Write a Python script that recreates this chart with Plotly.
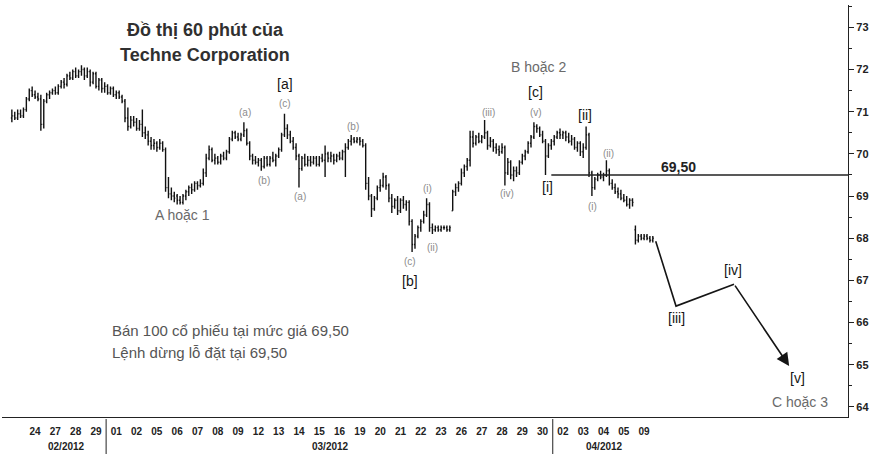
# Biểu đồ 60 phút của Techne Corporation với đếm sóng Elliott
import numpy as np
import plotly.graph_objects as go

# nhãn ngày trên trục x (23/02 chỉ có một phần phiên, không ghi nhãn)
ngay = ['24', '27', '28', '29', '01', '02', '05', '06', '07', '08', '09', '12', '13', '14',
        '15', '16', '19', '20', '21', '22', '23', '26', '27', '28', '29', '30',
        '02', '03', '04', '05', '09']
thang = ['02/2012', '03/2012', '04/2012']
so_ngay_moi_thang = [4, 22, 5]
nen_phien_dau = 5      # số nến còn lại của phiên 23/02
nen_moi_ngay = 7       # 7 nến 60 phút mỗi phiên

gia_mo = [70.85, 70.90, 70.85, 70.95, 70.90,
          71.05, 71.30, 71.50, 71.40, 71.35, 71.30, 70.70,
          71.25, 71.40, 71.45, 71.50, 71.45, 71.60, 71.70,
          71.65, 71.85, 71.80, 71.95, 71.85, 71.95, 72.00,
          71.85, 71.95, 71.70, 71.90, 71.60, 71.75, 71.55,
          71.60, 71.45, 71.55, 71.40, 71.45, 71.35, 71.25,
          70.85, 70.65, 70.80, 70.75, 70.60, 70.70, 70.50,
          70.45, 70.30, 70.20, 70.25, 70.15, 70.25, 70.10,
          69.20, 69.05, 69.00, 69.00, 68.90, 68.85, 69.00,
          69.10, 69.20, 69.15, 69.30, 69.25, 69.30, 69.55,
          69.90, 70.10, 69.85, 69.90, 69.80, 69.95, 69.90,
          70.05, 70.35, 70.50, 70.40, 70.35, 70.45, 70.55,
          70.25, 69.95, 69.85, 69.80, 69.85, 69.70, 69.90,
          69.75, 69.90, 69.85, 69.95, 70.10, 70.45, 70.60,
          70.45, 70.30, 70.15, 69.95, 69.65, 69.90, 69.75,
          69.85, 69.80, 69.90, 69.75, 69.90, 69.85, 70.00,
          69.90, 69.95, 69.85, 69.95, 69.90, 70.05, 70.15,
          70.30, 70.35, 70.30, 70.35, 70.30, 70.20, 69.30,
          69.00, 68.70, 68.95, 69.20, 69.25, 69.45, 69.25,
          68.95, 68.75, 68.90, 68.65, 68.90, 68.80, 68.85,
          68.40, 67.85, 68.05, 68.25, 68.40, 68.55, 68.80,
          68.25, 68.20, 68.25, 68.20, 68.25, 68.25, 68.20,
          68.65, 69.10, 69.20, 69.30, 69.55, 69.70, 69.85,
          70.40, 70.25, 70.40, 70.30, 70.40, 70.50, 70.20,
          70.30, 70.15, 70.10, 70.05, 70.15, 69.55, 69.80,
          69.50, 69.60, 69.55, 69.80, 69.95, 70.05, 70.25,
          70.40, 70.65, 70.60, 70.45, 70.30, 69.95, 70.20,
          70.30, 70.40, 70.50, 70.45, 70.50, 70.40, 70.30,
          70.35, 70.15, 70.25, 70.05, 70.15, 70.45, 69.55,
          69.20, 69.40, 69.50, 69.45, 69.50, 69.60, 69.30,
          69.20, 69.10, 69.05, 68.95, 68.90, 68.80, 68.90,
          68.20, 67.95, 68.05, 68.00, 68.05, 68.00, 67.95]
gia_cao = [71.05, 71.00, 71.05, 71.05, 71.10,
           71.35, 71.55, 71.60, 71.50, 71.45, 71.40, 71.30,
           71.45, 71.50, 71.55, 71.60, 71.65, 71.75, 71.80,
           71.90, 71.95, 72.00, 72.05, 72.00, 72.10, 72.05,
           72.05, 72.00, 71.95, 71.95, 71.80, 71.80, 71.70,
           71.65, 71.60, 71.60, 71.50, 71.50, 71.40, 71.30,
           71.10, 70.90, 70.90, 70.85, 70.80, 71.05, 70.65,
           70.55, 70.40, 70.35, 70.30, 70.35, 70.30, 70.15,
           69.45, 69.20, 69.10, 69.05, 69.00, 69.05, 69.15,
           69.25, 69.30, 69.35, 69.35, 69.40, 69.65, 70.00,
           70.20, 70.15, 70.00, 69.95, 70.00, 70.05, 70.10,
           70.40, 70.55, 70.55, 70.50, 70.50, 70.75, 70.60,
           70.30, 70.00, 69.95, 69.90, 69.90, 69.95, 69.95,
           69.95, 70.05, 70.00, 70.15, 70.50, 70.95, 70.70,
           70.55, 70.40, 70.25, 70.00, 69.95, 70.00, 69.95,
           69.95, 69.95, 69.95, 69.95, 70.00, 70.20, 70.05,
           70.05, 70.00, 70.00, 70.05, 70.10, 70.25, 70.35,
           70.45, 70.40, 70.40, 70.40, 70.35, 70.25, 69.45,
           69.05, 69.00, 69.25, 69.40, 69.55, 69.50, 69.30,
           69.05, 68.95, 69.00, 68.95, 69.00, 68.90, 68.90,
           68.45, 68.10, 68.30, 68.45, 68.65, 68.95, 68.85,
           68.35, 68.30, 68.30, 68.30, 68.30, 68.30, 68.30,
           69.15, 69.30, 69.35, 69.65, 69.75, 69.90, 70.55,
           70.55, 70.45, 70.50, 70.45, 70.80, 70.55, 70.40,
           70.35, 70.25, 70.20, 70.25, 70.20, 69.90, 69.85,
           69.70, 69.70, 69.85, 70.00, 70.10, 70.30, 70.45,
           70.75, 70.70, 70.65, 70.55, 70.35, 70.25, 70.35,
           70.45, 70.55, 70.60, 70.55, 70.55, 70.50, 70.45,
           70.40, 70.30, 70.30, 70.25, 70.65, 70.50, 69.60,
           69.45, 69.55, 69.60, 69.55, 69.85, 69.65, 69.40,
           69.30, 69.20, 69.15, 69.05, 69.00, 68.95, 68.95,
           68.30, 68.10, 68.10, 68.10, 68.10, 68.05, 68.05]
gia_thap = [70.75, 70.80, 70.80, 70.85, 70.85,
            71.00, 71.25, 71.35, 71.30, 71.25, 70.55, 70.60,
            71.20, 71.30, 71.40, 71.40, 71.40, 71.55, 71.55,
            71.60, 71.75, 71.75, 71.80, 71.80, 71.85, 71.75,
            71.80, 71.60, 71.65, 71.55, 71.50, 71.45, 71.45,
            71.40, 71.40, 71.35, 71.30, 71.30, 71.20, 70.75,
            70.55, 70.60, 70.65, 70.55, 70.55, 70.40, 70.35,
            70.20, 70.10, 70.10, 70.05, 70.10, 70.05, 69.10,
            68.95, 68.90, 68.85, 68.80, 68.80, 68.80, 68.90,
            69.00, 69.05, 69.10, 69.15, 69.20, 69.25, 69.45,
            69.85, 69.80, 69.75, 69.75, 69.75, 69.85, 69.85,
            70.00, 70.30, 70.35, 70.30, 70.30, 70.40, 70.20,
            69.85, 69.75, 69.75, 69.70, 69.60, 69.65, 69.70,
            69.70, 69.80, 69.70, 69.90, 70.05, 70.40, 70.35,
            70.25, 70.10, 69.85, 69.20, 69.60, 69.70, 69.70,
            69.70, 69.75, 69.70, 69.70, 69.80, 69.45, 69.80,
            69.80, 69.75, 69.80, 69.85, 69.85, 69.45, 70.10,
            70.20, 70.25, 70.25, 70.20, 70.15, 69.15, 68.90,
            68.50, 68.65, 68.90, 69.10, 69.20, 69.15, 68.85,
            68.60, 68.70, 68.55, 68.60, 68.70, 68.65, 68.30,
            67.67, 67.75, 68.00, 68.15, 68.35, 68.50, 68.15,
            68.10, 68.15, 68.15, 68.15, 68.20, 68.15, 68.15,
            68.65, 69.00, 69.10, 69.25, 69.45, 69.60, 69.70,
            70.15, 70.20, 70.25, 70.25, 70.35, 70.10, 70.15,
            70.05, 70.00, 69.95, 70.00, 69.25, 69.50, 69.40,
            69.35, 69.45, 69.50, 69.75, 69.85, 70.00, 70.15,
            70.35, 70.50, 70.40, 70.25, 69.50, 69.90, 70.10,
            70.20, 70.35, 70.35, 70.35, 70.30, 70.25, 70.20,
            70.10, 70.05, 69.95, 69.90, 70.10, 69.45, 69.00,
            69.15, 69.35, 69.40, 69.35, 69.45, 69.25, 69.15,
            69.05, 68.95, 68.90, 68.85, 68.75, 68.70, 68.75,
            67.85, 67.90, 67.95, 67.95, 67.95, 67.90, 67.90]
gia_dong = [70.90, 70.85, 70.95, 70.90, 71.05,
            71.30, 71.50, 71.40, 71.35, 71.30, 70.70, 71.25,
            71.40, 71.45, 71.50, 71.45, 71.60, 71.70, 71.65,
            71.85, 71.80, 71.95, 71.85, 71.95, 72.00, 71.85,
            71.95, 71.70, 71.90, 71.60, 71.75, 71.55, 71.60,
            71.45, 71.55, 71.40, 71.45, 71.35, 71.25, 70.85,
            70.65, 70.80, 70.75, 70.60, 70.70, 70.50, 70.45,
            70.30, 70.20, 70.25, 70.15, 70.25, 70.10, 69.20,
            69.05, 69.00, 68.95, 68.90, 68.85, 69.00, 69.10,
            69.20, 69.15, 69.30, 69.25, 69.30, 69.55, 69.90,
            70.10, 69.85, 69.90, 69.80, 69.95, 69.90, 70.05,
            70.35, 70.50, 70.40, 70.35, 70.45, 70.55, 70.25,
            69.95, 69.85, 69.80, 69.85, 69.70, 69.90, 69.75,
            69.90, 69.85, 69.95, 70.10, 70.45, 70.60, 70.45,
            70.30, 70.15, 69.95, 69.65, 69.90, 69.75, 69.85,
            69.80, 69.90, 69.75, 69.90, 69.85, 70.00, 69.90,
            69.95, 69.85, 69.95, 69.90, 70.05, 70.15, 70.30,
            70.35, 70.30, 70.35, 70.30, 70.20, 69.30, 69.00,
            68.70, 68.95, 69.20, 69.25, 69.45, 69.25, 68.95,
            68.75, 68.90, 68.65, 68.90, 68.80, 68.85, 68.40,
            67.85, 68.05, 68.25, 68.40, 68.55, 68.80, 68.25,
            68.20, 68.25, 68.20, 68.25, 68.25, 68.20, 68.25,
            69.10, 69.20, 69.30, 69.55, 69.70, 69.85, 70.40,
            70.25, 70.40, 70.30, 70.40, 70.50, 70.20, 70.30,
            70.15, 70.10, 70.05, 70.15, 69.55, 69.80, 69.50,
            69.60, 69.55, 69.80, 69.95, 70.05, 70.25, 70.40,
            70.65, 70.60, 70.45, 70.30, 69.95, 70.20, 70.30,
            70.40, 70.50, 70.45, 70.50, 70.40, 70.30, 70.35,
            70.15, 70.25, 70.05, 70.15, 70.45, 69.55, 69.20,
            69.40, 69.50, 69.45, 69.50, 69.60, 69.30, 69.20,
            69.10, 69.05, 68.95, 68.90, 68.80, 68.90, 68.85,
            67.95, 68.05, 68.00, 68.05, 68.00, 67.95, 68.00]

# đường dự báo sóng [iii] - [iv] - [v] (vị trí theo số nến, giá)
du_bao_x = [222, 229, 249, 268]
du_bao_y = [67.93, 66.39, 66.91, 64.97]
muc_dung_lo = 69.50

# nhãn sóng: (chữ, vị trí nến, giá, kiểu)
nhan_song = [
    ('[a]', 94.2, 71.65, 'lon'), ('(c)', 94.2, 71.20, 'nho'),
    ('(a)', 80.4, 70.97, 'nho'), ('(b)', 87.0, 69.38, 'nho'),
    ('(a)', 99.4, 68.98, 'nho'), ('(b)', 117.7, 70.64, 'nho'),
    ('(i)', 143.2, 69.19, 'nho'), ('(ii)', 144.9, 67.77, 'nho'),
    ('(c)', 137.3, 67.44, 'nho'), ('[b]', 137.3, 66.99, 'lon'),
    ('(iii)', 164.2, 70.99, 'nho'), ('(iv)', 170.8, 69.05, 'nho'),
    ('(v)', 180.8, 70.99, 'nho'), ('[c]', 180.4, 71.46, 'lon'),
    ('[i]', 184.6, 69.21, 'lon'), ('[ii]', 197.7, 70.92, 'lon'),
    ('(i)', 200.1, 68.74, 'nho'), ('(ii)', 205.6, 70.02, 'nho'),
    ('[iii]', 229.0, 66.11, 'lon'), ('[iv]', 248.7, 67.25, 'lon'),
    ('[v]', 270.8, 64.69, 'lon'),
    ('A hoặc 1', 58.7, 68.55, 'vua'), ('B hoặc 2', 181.5, 72.06, 'vua'),
    ('C hoặc 3', 271.8, 64.12, 'vua'),
]

x_nen = np.arange(len(gia_dong))
tam_ngay = [nen_phien_dau + nen_moi_ngay * k + 3 for k in range(len(ngay))]

fig = go.Figure()
fig.add_trace(go.Ohlc(
    x=x_nen, open=gia_mo, high=gia_cao, low=gia_thap, close=gia_dong,
    increasing_line_color='#111', decreasing_line_color='#111',
    line_width=1.4, tickwidth=0.35, hoverinfo='skip',
))
# hai đoạn đầu của đường dự báo; đoạn cuối là mũi tên bên dưới
fig.add_trace(go.Scatter(
    x=du_bao_x[:3], y=du_bao_y[:3], mode='lines',
    line=dict(color='#151515', width=1.6), hoverinfo='skip',
))
fig.add_annotation(
    x=du_bao_x[3], y=du_bao_y[3], ax=du_bao_x[2], ay=du_bao_y[2],
    xref='x', yref='y', axref='x', ayref='y', text='',
    showarrow=True, arrowhead=2, arrowsize=1.6, arrowwidth=1.6, arrowcolor='#151515',
)

# đường mức 69,50
fig.add_shape(type='line', xref='x', yref='y', x0=186, x1=289.5,
              y0=muc_dung_lo, y1=muc_dung_lo, line=dict(color='#222', width=1.4))
fig.add_annotation(x=229.7, y=69.69, text='69,50', showarrow=False,
                   font=dict(family='Liberation Sans', size=14, color='#222', weight='bold'))

kieu_chu = {
    'lon': dict(family='Liberation Sans', size=14, color='#151515'),
    'nho': dict(family='Liberation Sans', size=10, color='#8c8c8c'),
    'vua': dict(family='Liberation Sans', size=14, color='#6a6a6a'),
}
for chu, xx, yy, kieu in nhan_song:
    fig.add_annotation(x=xx, y=yy, text=chu, showarrow=False, font=kieu_chu[kieu])

# tiêu đề
fig.add_annotation(x=66.6, y=72.93, text='Đồ thị 60 phút của', showarrow=False,
                   font=dict(family='Liberation Sans', size=18, color='#303030', weight='bold'))
fig.add_annotation(x=66.6, y=72.34, text='Techne Corporation', showarrow=False,
                   font=dict(family='Liberation Sans', size=18, color='#303030', weight='bold'))

# ghi chú lệnh bán
for chu, yy in [('Bán 100 cổ phiếu tại mức giá 69,50', 65.82),
                ('Lệnh dừng lỗ đặt tại 69,50', 65.30)]:
    fig.add_annotation(x=33.9, y=yy, text=chu, showarrow=False, xanchor='left',
                       font=dict(family='Liberation Sans', size=15, color='#555'))

# nhãn tháng và vạch phân cách tháng
dau = nen_phien_dau
for i, (t, n) in enumerate(zip(thang, so_ngay_moi_thang)):
    giua = dau + nen_moi_ngay * n / 2
    fig.add_annotation(x=giua, y=0, xref='x', yref='paper', yanchor='top', yshift=-22,
                       text=t, showarrow=False,
                       font=dict(family='Liberation Sans', size=10, color='#222', weight='bold'))
    if i > 0:
        fig.add_shape(type='line', xref='x', yref='paper', x0=dau - 0.5, x1=dau - 0.5,
                      y0=-0.005, y1=-0.1, line=dict(color='#222', width=1))
    dau += nen_moi_ngay * n

fig.update_layout(
    width=871, height=454,
    margin=dict(l=2, r=23, t=5, b=37),
    paper_bgcolor='white', plot_bgcolor='white',
    showlegend=False,
    xaxis=dict(
        range=[-3.4, 288.3], rangeslider=dict(visible=False),
        tickvals=tam_ngay, ticktext=ngay, ticks='', showgrid=False,
        ticklabelstandoff=5,
        showline=True, linecolor='#222', linewidth=1.2, zeroline=False,
        tickfont=dict(family='Liberation Sans', size=10, color='#222', weight='bold'),
    ),
    yaxis=dict(
        range=[63.76, 73.53], side='right', tickvals=list(range(64, 74)),
        ticks='outside', ticklen=5, tickcolor='#222', showgrid=False, zeroline=False,
        showline=True, linecolor='#222', linewidth=1.2,
        minor=dict(dtick=0.5, ticks='outside', ticklen=3, tickcolor='#222'),
        tickfont=dict(family='Liberation Sans', size=11, color='#222', weight='bold'),
    ),
)

# bỏ lề mặc định của trang để hình nằm sát góc trên trái, ẩn thanh công cụ
fig.write_html('out.html', config={'displayModeBar': False},
               post_script="document.body.style.margin='0';")
